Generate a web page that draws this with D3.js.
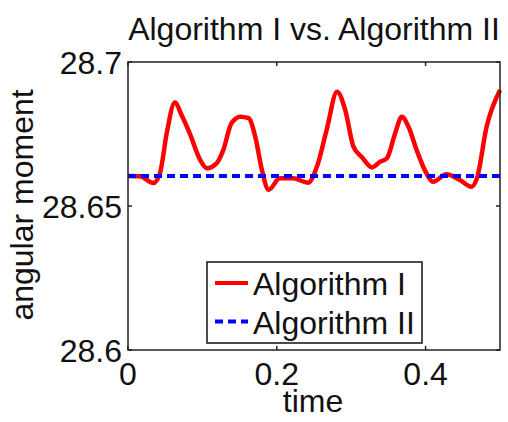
<!DOCTYPE html>
<html>
<head>
<meta charset="utf-8">
<script src="https://cdn.jsdelivr.net/npm/d3@7"></script>
<style>
  body { margin: 0; background: #fff; }
  text { font-family: "Liberation Sans", Arial, sans-serif; fill: #111; }
</style>
</head>
<body>
<svg id="chart" width="508" height="422"></svg>
<script>
// time samples and angular moment
const timeA = [0, 0.016, 0.034, 0.043, 0.052, 0.063, 0.072, 0.083, 0.097, 0.106, 0.119, 0.128,
    0.139, 0.151, 0.162, 0.171, 0.180, 0.189, 0.204, 0.222, 0.242, 0.254, 0.267, 0.281, 0.292,
    0.303, 0.314, 0.328, 0.339, 0.348, 0.359, 0.368, 0.377, 0.388, 0.401, 0.410, 0.428, 0.446,
    0.462, 0.469, 0.482, 0.5];
const momentA = [28.6604, 28.6603, 28.6580, 28.6614, 28.6752, 28.6859, 28.6816, 28.6752, 28.6660,
    28.6631, 28.6648, 28.6694, 28.6787, 28.6810, 28.6805, 28.6741, 28.6625, 28.6556, 28.6596,
    28.6596, 28.6581, 28.6637, 28.6764, 28.6897, 28.6833, 28.6706, 28.6671, 28.6634, 28.6654,
    28.6666, 28.6752, 28.6810, 28.6775, 28.6694, 28.6614, 28.6584, 28.6610, 28.6590, 28.6567,
    28.6596, 28.6775, 28.6903];
const timeB = [0, 0.5];
const momentB = [28.6604, 28.6604];
const xTicks = [0, 0.2, 0.4];
const yTicks = [28.6, 28.65, 28.7];
const seriesNames = ['Algorithm I', 'Algorithm II'];

const svg = d3.select('#chart');
const margin = { left: 128, right: 8, top: 62, bottom: 72 };
const width = 508 - margin.left - margin.right;
const height = 422 - margin.top - margin.bottom;
const fs = 32;

const x = d3.scaleLinear().domain([0, 0.5]).range([0, width]);
const y = d3.scaleLinear().domain([28.6, 28.7]).range([height, 0]);

const g = svg.append('g').attr('transform', 'translate(' + margin.left + ',' + margin.top + ')');

// lines
const line = d3.line().x(d => x(d[0])).y(d => y(d[1])).curve(d3.curveMonotoneX);
g.append('path')
    .datum(timeA.map((t, i) => [t, momentA[i]]))
    .attr('d', line)
    .attr('fill', 'none')
    .attr('stroke', '#ff0000')
    .attr('stroke-width', 4.5)
    .attr('stroke-linejoin', 'round');
g.append('path')
    .datum(timeB.map((t, i) => [t, momentB[i]]))
    .attr('d', line)
    .attr('fill', 'none')
    .attr('stroke', '#0000ff')
    .attr('stroke-width', 4)
    .attr('stroke-dasharray', '8,5');

// box
g.append('rect')
    .attr('width', width).attr('height', height)
    .attr('fill', 'none').attr('stroke', '#222').attr('stroke-width', 1.5);

// ticks, inward on all four sides
const tl = 4;
xTicks.forEach(t => {
    g.append('line').attr('x1', x(t)).attr('x2', x(t)).attr('y1', height).attr('y2', height - tl)
        .attr('stroke', '#222').attr('stroke-width', 1.5);
    g.append('line').attr('x1', x(t)).attr('x2', x(t)).attr('y1', 0).attr('y2', tl)
        .attr('stroke', '#222').attr('stroke-width', 1.5);
    g.append('text').attr('x', x(t)).attr('y', height + 35)
        .attr('text-anchor', 'middle').attr('font-size', fs).text(d3.format('')(t));
});
yTicks.forEach(t => {
    g.append('line').attr('x1', 0).attr('x2', tl).attr('y1', y(t)).attr('y2', y(t))
        .attr('stroke', '#222').attr('stroke-width', 1.5);
    g.append('line').attr('x1', width).attr('x2', width - tl).attr('y1', y(t)).attr('y2', y(t))
        .attr('stroke', '#222').attr('stroke-width', 1.5);
    g.append('text').attr('x', -6).attr('y', y(t) + 11.5)
        .attr('text-anchor', 'end').attr('font-size', fs).text(t);
});

// labels
svg.append('text').attr('x', margin.left + width / 2).attr('y', 40)
    .attr('text-anchor', 'middle').attr('font-size', fs).text('Algorithm I vs. Algorithm II');
svg.append('text').attr('x', margin.left + width / 2 - 1).attr('y', 412)
    .attr('text-anchor', 'middle').attr('font-size', fs).text('time');
svg.append('text')
    .attr('transform', 'translate(33,' + (margin.top + height / 2 - 1) + ') rotate(-90)')
    .attr('text-anchor', 'middle').attr('font-size', fs).text('angular moment');

// legend
const lg = svg.append('g').attr('transform', 'translate(207,262)');
lg.append('rect').attr('width', 215).attr('height', 81)
    .attr('fill', '#fff').attr('stroke', '#111').attr('stroke-width', 1.5);
const legendStyles = [
    { color: '#ff0000', dash: null },
    { color: '#0000ff', dash: '8,5' }
];
seriesNames.forEach((name, i) => {
    const yy = 21 + i * 38.5;
    lg.append('line').attr('x1', 8).attr('x2', 41).attr('y1', yy).attr('y2', yy)
        .attr('stroke', legendStyles[i].color).attr('stroke-width', 4)
        .attr('stroke-dasharray', legendStyles[i].dash);
    lg.append('text').attr('x', 46).attr('y', yy + 12).attr('font-size', fs).text(name);
});
</script>
</body>
</html>
